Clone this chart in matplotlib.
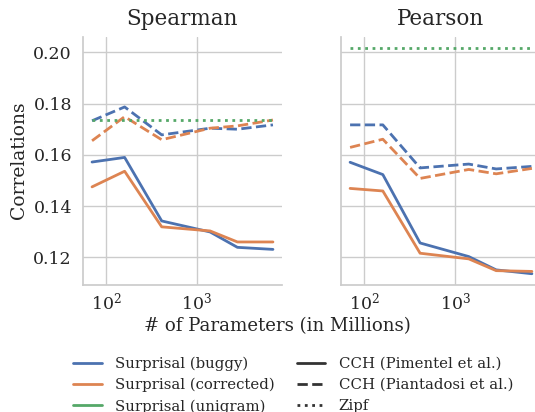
import numpy as np
import matplotlib
matplotlib.use("Agg")
import matplotlib.pyplot as plt
import seaborn as sns
from matplotlib.lines import Line2D

# pythia model sizes (millions of params)
params = [70, 160, 410, 1400, 2800, 6900]

# spearman
sp_buggy_pim = [0.1572, 0.1590, 0.1342, 0.1299, 0.1239, 0.1231]
sp_corr_pim = [0.1475, 0.1536, 0.1319, 0.1303, 0.1260, 0.1260]
sp_buggy_pia = [0.1733, 0.1787, 0.1678, 0.1704, 0.1700, 0.1717]
sp_corr_pia = [0.1655, 0.1749, 0.1659, 0.1704, 0.1713, 0.1736]
sp_unigram_zipf = [0.1735, 0.1735, 0.1735, 0.1735, 0.1735, 0.1735]

# pearson
pe_buggy_pim = [0.1571, 0.1523, 0.1256, 0.1203, 0.1151, 0.1136]
pe_corr_pim = [0.1469, 0.1459, 0.1216, 0.1194, 0.1148, 0.1145]
pe_buggy_pia = [0.1717, 0.1717, 0.1549, 0.1564, 0.1545, 0.1555]
pe_corr_pia = [0.1629, 0.1661, 0.1508, 0.1543, 0.1526, 0.1547]
pe_unigram_zipf = [0.2016, 0.2016, 0.2016, 0.2016, 0.2016, 0.2016]

color_labels = ["Surprisal (buggy)", "Surprisal (corrected)", "Surprisal (unigram)"]
style_labels = ["CCH (Pimentel et al.)", "CCH (Piantadosi et al.)", "Zipf"]

sns.set_theme(style="whitegrid", palette="deep")
plt.rcParams['font.family'] = ['DejaVu Serif']
plt.rcParams['mathtext.fontset'] = 'dejavuserif'
cols = sns.color_palette("deep")

fig = plt.figure(figsize=(5.35, 4.12), dpi=100)
W, H = 535, 412
ax1 = fig.add_axes([83 / W, 127 / H, 199 / W, 248 / H])
ax2 = fig.add_axes([341 / W, 127 / H, 200 / W, 248 / H], sharey=ax1)

panels = [
    (ax1, "Spearman", sp_buggy_pim, sp_corr_pim, sp_buggy_pia, sp_corr_pia, sp_unigram_zipf),
    (ax2, "Pearson", pe_buggy_pim, pe_corr_pim, pe_buggy_pia, pe_corr_pia, pe_unigram_zipf),
]
for ax, title, bp, cp, bpi, cpi, uz in panels:
    ax.plot(params, bp, color=cols[0], ls="-", lw=2)
    ax.plot(params, cp, color=cols[1], ls="-", lw=2)
    ax.plot(params, bpi, color=cols[0], ls="--", lw=2)
    ax.plot(params, cpi, color=cols[1], ls="--", lw=2)
    ax.plot(params, uz, color=cols[2], ls=":", lw=2)
    ax.set_xscale("log")
    ax.set_title(title, fontsize=15.5, pad=9)
    ax.tick_params(labelsize=12.5, length=0)
    ax.tick_params(axis="x", pad=5)
    ax.tick_params(axis="y", pad=8)
    ax.grid(which="minor", visible=False)
    for s in ["top", "right"]:
        ax.spines[s].set_visible(False)
    for s in ["left", "bottom"]:
        ax.spines[s].set_color("#cccccc")

ax1.set_yticks([0.12, 0.14, 0.16, 0.18, 0.20])
ax1.yaxis.set_major_formatter(matplotlib.ticker.FormatStrFormatter("%.2f"))
ax2.tick_params(labelleft=False)

# shared axis labels
fig.text(19 / W, 1 - 160 / H, "Correlations", rotation=90, ha="center", va="center", fontsize=13.5)
fig.text(277 / W, 1 - 326 / H, "# of Parameters (in Millions)", ha="center", va="center", fontsize=13.1)

handles = [Line2D([], [], color=cols[i], lw=2) for i in range(3)]
handles += [Line2D([], [], color="#333333", lw=2, ls=s) for s in ["-", "--", ":"]]
labels = color_labels + style_labels
fig.legend(handles, labels, ncol=2, frameon=False, fontsize=10.7,
           loc="upper left", bbox_to_anchor=(60 / W, 1 - 343 / H),
           handlelength=1.9, handletextpad=0.9, columnspacing=1.5, labelspacing=0.47)

fig.savefig("out.png", dpi=100)
